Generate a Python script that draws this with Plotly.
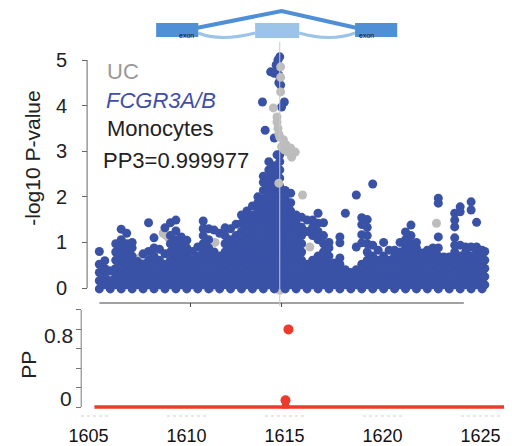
import plotly.graph_objects as go

# ---------------- data ----------------
# Top panel: -log10 P-values of SNPs (FCGR3A/B Monocytes eQTL), columns of points by position (Mb)
col_x = [1605.0, 1605.3, 1605.6, 1605.9, 1606.2, 1606.5, 1606.8, 1607.1, 1607.4, 1607.7,
         1608.0, 1608.3, 1608.6, 1608.9, 1609.2, 1609.5, 1609.8, 1610.1, 1610.4, 1610.7,
         1611.0, 1611.3, 1611.6, 1611.9, 1612.2, 1612.5, 1612.8, 1613.1, 1613.4, 1613.7,
         1614.0, 1614.3, 1614.6, 1614.9, 1615.2, 1615.5, 1615.8, 1616.1, 1616.4, 1616.7,
         1617.0, 1617.3, 1617.6, 1617.9, 1618.2, 1618.5, 1618.8, 1619.1, 1619.4, 1619.7,
         1620.0, 1620.3, 1620.6, 1620.9, 1621.2, 1621.5, 1621.8, 1622.1, 1622.4, 1622.7,
         1623.0, 1623.3, 1623.6, 1623.9, 1624.2, 1624.5, 1624.8, 1625.1, 1625.4, 1625.7,
         1626.0, 1626.15]
col_y = [
    [-0.02, 0.16, 0.34, 0.52, 0.8],
    [0.07, 0.25, 0.43, 0.6],
    [-0.02, 0.16, 0.38],
    [0.07, 0.25, 0.43, 0.61, 0.79, 0.97],
    [-0.02, 0.16, 0.34, 0.52, 0.7, 0.88, 1.06, 1.29],
    [0.07, 0.25, 0.43, 0.61, 0.79, 0.97, 1.2],
    [-0.02, 0.16, 0.34, 0.52, 0.7, 0.88, 1.0],
    [0.07, 0.25, 0.43, 0.58],
    [-0.02, 0.16, 0.34, 0.52, 0.75],
    [0.07, 0.25, 0.43, 0.61, 0.8, 1.43],
    [-0.02, 0.16, 0.34, 0.52, 0.7, 0.88, 1.1],
    [0.07, 0.25, 0.43, 0.61, 0.85],
    [-0.02, 0.16, 0.34, 0.52, 0.75, 1.32],
    [0.07, 0.25, 0.43, 0.61, 0.79, 0.97, 1.15, 1.43],
    [-0.02, 0.16, 0.34, 0.52, 0.7, 0.88, 1.06, 1.25, 1.49],
    [0.07, 0.25, 0.43, 0.61, 0.79, 0.97, 1.12],
    [-0.02, 0.16, 0.34, 0.52, 0.7, 0.88, 1.05],
    [0.07, 0.25, 0.43, 0.61, 0.8],
    [-0.02, 0.16, 0.34, 0.52, 0.7, 0.9],
    [0.07, 0.25, 0.43, 0.61, 0.79, 0.97, 1.15, 1.3, 1.47],
    [-0.02, 0.16, 0.34, 0.52, 0.7, 0.88, 1.06, 1.3],
    [0.07, 0.25, 0.43, 0.61, 0.79, 1.27],
    [-0.02, 0.16, 0.34, 0.52, 0.7, 1.2],
    [0.07, 0.25, 0.43, 0.61, 0.79, 0.97, 1.15, 1.32],
    [-0.02, 0.16, 0.34, 0.52, 0.7, 0.88, 1.06, 1.3],
    [0.07, 0.25, 0.43, 0.61, 0.79, 0.97, 1.15, 1.4],
    [-0.02, 0.16, 0.34, 0.52, 0.7, 0.88, 1.06, 1.24, 1.42, 1.6],
    [0.07, 0.25, 0.43, 0.61, 0.79, 0.97, 1.15, 1.33, 1.51, 1.69],
    [-0.02, 0.16, 0.34, 0.52, 0.7, 0.88, 1.06, 1.24, 1.42, 1.6, 1.8],
    [0.07, 0.25, 0.43, 0.61, 0.79, 0.97, 1.15, 1.33, 1.51, 1.69, 1.87, 2.0],
    [-0.02, 0.16, 0.34, 0.52, 0.7, 0.88, 1.06, 1.24, 1.42, 1.6, 1.78, 1.96, 2.14, 2.32, 2.45],
    [0.07, 0.25, 0.43, 0.61, 0.79, 0.97, 1.15, 1.33, 1.51, 1.69, 1.87, 2.05, 2.23, 2.41, 2.59, 2.77],
    [-0.02, 0.16, 0.34, 0.52, 0.7, 0.88, 1.06, 1.24, 1.42, 1.6, 1.78, 1.96, 2.14, 2.32, 2.5, 2.68, 3.29],
    [0.07, 0.25, 0.43, 0.61, 0.79, 0.97, 1.15, 1.33, 1.51, 1.69, 1.87, 2.05, 2.23, 2.41, 2.59, 2.77, 2.92],
    [-0.02, 0.16, 0.34, 0.52, 0.7, 0.88, 1.06, 1.24, 1.42, 1.6, 1.78, 1.96, 2.14],
    [0.07, 0.25, 0.43, 0.61, 0.79, 0.97, 1.15, 1.33, 1.51, 1.69, 1.87, 2.08],
    [-0.02, 0.16, 0.34, 0.52, 0.7, 0.88, 1.06, 1.24, 1.42, 1.6],
    [0.07, 0.25, 0.43, 0.61, 0.79, 0.97, 1.15, 1.33, 1.55],
    [-0.02, 0.16, 0.34, 0.52, 1.24, 1.49],
    [0.07, 0.25, 0.43, 0.61, 1.15, 1.33, 1.49],
    [-0.02, 0.16, 0.34, 0.52, 0.7, 1.06, 1.24, 1.42, 1.64],
    [0.07, 0.25, 0.43, 0.61, 0.79, 0.97, 1.15, 1.43],
    [-0.02, 0.16, 0.34, 0.52, 0.7, 0.88, 1.0],
    [0.07, 0.25, 0.43, 0.55],
    [-0.02, 0.16, 0.34, 0.52, 0.66, 0.99, 1.12],
    [0.07, 0.25, 0.4, 1.64],
    [-0.02, 0.16, 0.34],
    [0.07, 0.25, 0.4, 0.9, 2.04],
    [-0.02, 0.16, 0.34, 0.52, 0.99, 1.17, 1.39, 1.54],
    [0.07, 0.25, 0.43, 0.61, 0.79, 0.97, 1.15, 1.33, 1.5],
    [-0.02, 0.16, 0.34, 0.52, 0.7, 0.94, 2.28],
    [0.07, 0.25, 0.43, 0.61, 0.83],
    [-0.02, 0.16, 0.34, 0.52, 0.7, 1.0],
    [0.07, 0.25, 0.43, 0.61, 0.83],
    [-0.02, 0.16, 0.34, 0.52, 0.7, 0.83],
    [0.07, 0.25, 0.43, 0.61, 0.79, 1.0],
    [-0.02, 0.16, 0.34, 0.52, 0.7, 0.88, 1.06, 1.23],
    [0.07, 0.25, 0.43, 0.61, 0.79, 0.97, 1.15, 1.38],
    [-0.02, 0.16, 0.34, 0.52, 0.7, 0.88, 1.0],
    [0.07, 0.25, 0.43, 0.61, 0.77],
    [-0.02, 0.16, 0.34, 0.52, 0.7, 0.83],
    [0.07, 0.25, 0.43, 0.61, 0.79, 0.88],
    [-0.02, 0.16, 0.34, 0.52, 0.7, 0.88, 1.12, 1.86, 1.97],
    [0.07, 0.25, 0.43, 0.61, 0.68],
    [-0.02, 0.16, 0.34, 0.52, 0.68],
    [0.07, 0.25, 0.43, 0.61, 0.79, 0.94, 1.1, 1.34, 1.49, 1.64],
    [-0.02, 0.16, 0.34, 0.52, 0.7, 0.94, 1.67, 1.78],
    [0.07, 0.25, 0.43, 0.61, 0.79, 0.9],
    [-0.02, 0.16, 0.34, 0.52, 0.7, 0.9, 1.71, 1.89],
    [0.07, 0.25, 0.43, 0.61, 0.79, 0.9, 1.44],
    [-0.02, 0.16, 0.34, 0.52, 0.7, 0.83],
    [0.07, 0.25, 0.43, 0.61, 0.8],
]
# isolated eQTL SNPs near the peak
peak_x = [1614.9, 1614.8, 1614.7, 1614.4, 1614.6, 1614.85, 1614.85, 1614.95, 1613.95,
          1615.15, 1615.0, 1614.1, 1614.75]
peak_y = [5.07, 5.0, 4.89, 4.74, 4.71, 4.67, 4.5, 4.45, 4.08,
          4.08, 3.97, 3.46, 2.92]
# UC GWAS SNPs (grey): peak cluster (drawn above) and background SNPs (drawn beneath)
uc_x = [1614.95, 1614.95, 1614.95, 1614.55, 1614.75, 1614.75, 1614.8, 1614.85, 1614.9,
        1615.1, 1615.25, 1615.5, 1615.75, 1615.35, 1615.15, 1615.0, 1615.55, 1614.85, 1616.15,
        1623.5]
uc_y = [4.85, 4.3, 4.62, 3.95, 3.75, 3.64, 3.5, 3.38, 3.31,
        3.25, 3.14, 3.07, 2.98, 2.98, 3.03, 3.1, 2.87, 2.3, 2.04,
        1.42]
uc_bg_x = [1605.35, 1605.7, 1605.7, 1607.2, 1608.65, 1608.8, 1609.35, 1613.5, 1614.2, 1613.2,
           1611.1, 1614.7, 1608.5, 1607.0, 1610.4, 1615.45, 1615.0, 1623.95, 1624.05,
           1625.45, 1624.8, 1614.9, 1611.35, 1616.55]
uc_bg_y = [0.33, 0.3, 0.12, 0.66, 1.16, 1.1, 0.33, 0.46, 0.39, 0.33,
           0.0, 0.18, 1.2, 0.6, 0.33, 0.24, 0.1, 0.66, 0.66,
           0.39, 0.24, -0.05, 1.0, 0.9]

# Bottom panel: posterior probability
pp_x = [1615.2, 1615.05]
pp_y = [0.8, 0.07]
pp_base_x = [1605.3, 1626.2]
pp_base_y = [0.0, 0.0]
pp_sq_x = [1615.05]
pp_sq_y = [0.02]

top_ticks = [0, 1, 2, 3, 4, 5]
bottom_xticks = [1605, 1610, 1615, 1620, 1625]
pp_ticks = [0, 0.2, 0.4, 0.6, 0.8, 1.0]

# ---------------- layout helpers (reference-pixel -> paper) ----------------
OX, OY = 16, 8          # page offset of the plot div inside the window
W, H = 512 - OX, 446 - OY
def PX(p): return (p - OX) / W
def PY(p): return 1 - (p - OY) / H

BLUE = "#3A52A6"
GREY = "#BDBDBD"
RED = "#EE3A2C"
FONT = "Liberation Sans, Arial, sans-serif"

bx, by = [], []
for x, ys in zip(col_x, col_y):
    for y in ys:
        bx.append(x)
        by.append(y)

mk = dict(size=9, line=dict(width=0))
fig = go.Figure()
fig.add_trace(go.Scatter(x=uc_bg_x, y=uc_bg_y, mode="markers", marker=dict(color=GREY, **mk),
                         xaxis="x", yaxis="y", showlegend=False, hoverinfo="skip"))
fig.add_trace(go.Scatter(x=bx, y=by, mode="markers", marker=dict(color=BLUE, **mk),
                         xaxis="x", yaxis="y", showlegend=False, hoverinfo="skip"))
fig.add_trace(go.Scatter(x=peak_x, y=peak_y, mode="markers", marker=dict(color=BLUE, **mk),
                         xaxis="x", yaxis="y", showlegend=False, hoverinfo="skip"))
fig.add_trace(go.Scatter(x=uc_x, y=uc_y, mode="markers", marker=dict(color=GREY, **mk),
                         xaxis="x", yaxis="y", showlegend=False, hoverinfo="skip"))

fig.add_trace(go.Scatter(x=pp_base_x, y=pp_base_y, mode="lines",
                         line=dict(color=RED, width=3.5),
                         xaxis="x2", yaxis="y2", showlegend=False, hoverinfo="skip",
                         cliponaxis=False))
fig.add_trace(go.Scatter(x=pp_sq_x, y=pp_sq_y, mode="markers",
                         marker=dict(color=RED, size=7, symbol="square"),
                         xaxis="x2", yaxis="y2", showlegend=False, hoverinfo="skip"))
fig.add_trace(go.Scatter(x=pp_x, y=pp_y, mode="markers",
                         marker=dict(color=RED, size=10, line=dict(width=0)),
                         xaxis="x2", yaxis="y2", showlegend=False, hoverinfo="skip"))

shapes = []
shapes.append(dict(type="line", xref="paper", yref="y", x0=PX(86.5), x1=PX(86.5), y0=0, y1=5,
                   line=dict(color="#666", width=1)))
shapes.append(dict(type="line", xref="x", yref="paper", x0=1605, x1=1625, y0=PY(303), y1=PY(303),
                   line=dict(color="#444", width=1)))
for t in [1610, 1615]:
    shapes.append(dict(type="line", xref="x", yref="paper", x0=t, x1=t, y0=PY(303), y1=PY(307),
                       line=dict(color="#444", width=1)))
shapes.append(dict(type="line", xref="x", yref="paper", x0=1614.9, x1=1614.9, y0=PY(306), y1=PY(42),
                   line=dict(color="#C8C8C8", width=1), layer="above"))
shapes.append(dict(type="line", xref="paper", yref="y2", x0=PX(80.5), x1=PX(80.5), y0=0, y1=1.0,
                   line=dict(color="#777", width=1)))
# faint gene-track marks under the bottom axis
for t in bottom_xticks:
    shapes.append(dict(type="line", xref="x2", yref="paper", x0=t - 1.0, x1=t + 1.0,
                       y0=PY(416), y1=PY(416), line=dict(color="#CFCFCF", width=1, dash="dot")))

# gene model
EX = "#4F8FD6"
EXL = "#9CC3E8"
shapes.append(dict(type="path", xref="paper", yref="paper",
                   path=f"M {PX(200)} {PY(33)} Q {PX(222)} {PY(42)} {PX(258)} {PY(33)}",
                   line=dict(color=EXL, width=3)))
shapes.append(dict(type="path", xref="paper", yref="paper",
                   path=f"M {PX(303)} {PY(33)} Q {PX(335)} {PY(42)} {PX(360)} {PY(33)}",
                   line=dict(color=EXL, width=3)))
shapes.append(dict(type="rect", xref="paper", yref="paper", x0=PX(258), x1=PX(303), y0=PY(38), y1=PY(23),
                   fillcolor=EXL, line=dict(width=0)))
shapes.append(dict(type="path", xref="paper", yref="paper",
                   path=f"M {PX(198)} {PY(28)} L {PX(285)} {PY(11)} L {PX(362)} {PY(28)}",
                   line=dict(color=EX, width=4)))
shapes.append(dict(type="rect", xref="paper", yref="paper", x0=PX(157), x1=PX(200), y0=PY(37), y1=PY(23),
                   fillcolor=EX, line=dict(width=0)))
shapes.append(dict(type="rect", xref="paper", yref="paper", x0=PX(360), x1=PX(403), y0=PY(37), y1=PY(23),
                   fillcolor=EX, line=dict(width=0)))

annotations = [
    dict(text="exon", x=PX(178), y=PY(30), xref="paper", yref="paper", showarrow=False,
         font=dict(size=7, color="#111", family=FONT)),
    dict(text="exon", x=PX(381), y=PY(30), xref="paper", yref="paper", showarrow=False,
         font=dict(size=7, color="#111", family=FONT)),
    dict(text="UC", x=PX(105), y=PY(71), xref="paper", yref="paper", showarrow=False,
         xanchor="left", yanchor="middle", font=dict(size=22, color="#999999", family=FONT)),
    dict(text="<i>FCGR3A/B</i>", x=PX(104), y=PY(101), xref="paper", yref="paper", showarrow=False,
         xanchor="left", yanchor="middle", font=dict(size=22, color="#3F4FA8", family=FONT)),
    dict(text="Monocytes", x=PX(105), y=PY(128), xref="paper", yref="paper", showarrow=False,
         xanchor="left", yanchor="middle", font=dict(size=22, color="#222", family=FONT)),
    dict(text="PP3=0.999977", x=PX(101), y=PY(160), xref="paper", yref="paper", showarrow=False,
         xanchor="left", yanchor="middle", font=dict(size=22, color="#222", family=FONT)),
    dict(text="-log10 P-value", x=PX(30), y=PY(158), xref="paper", yref="paper", showarrow=False,
         textangle=-90, xanchor="center", yanchor="middle", font=dict(size=21, color="#222", family=FONT)),
    dict(text="PP", x=PX(26), y=PY(365), xref="paper", yref="paper", showarrow=False,
         textangle=-90, xanchor="center", yanchor="middle", font=dict(size=21, color="#222", family=FONT)),
    dict(text="0.8", x=PX(74), y=PY(335), xref="paper", yref="paper", showarrow=False,
         xanchor="right", yanchor="middle", font=dict(size=21, color="#222", family=FONT)),
    dict(text="0", x=PX(73), y=PY(398), xref="paper", yref="paper", showarrow=False,
         xanchor="right", yanchor="middle", font=dict(size=21, color="#222", family=FONT)),
]

fig.update_layout(
    width=W, height=H,
    margin=dict(l=0, r=0, t=0, b=0),
    paper_bgcolor="white", plot_bgcolor="white",
    showlegend=False,
    xaxis=dict(domain=[PX(89.7), PX(498.9)], range=[1604.5, 1626.5], visible=False, anchor="y"),
    yaxis=dict(domain=[PY(300), PY(45)], range=[-0.263, 5.329], anchor="free", position=PX(86.5),
               showgrid=False, zeroline=False, showline=False,
               tickvals=top_ticks, ticks="outside", ticklen=5, tickcolor="#666", tickwidth=1,
               ticklabelstandoff=11,
               tickfont=dict(size=20, color="#222", family=FONT)),
    xaxis2=dict(domain=[PX(78), 1.0], range=[1604.5, 1626.2], anchor="y2",
                showgrid=False, zeroline=False, showline=False, ticks="",
                tickvals=bottom_xticks, ticklabelstandoff=8,
                tickfont=dict(size=18, color="#111", family=FONT)),
    yaxis2=dict(domain=[PY(415), PY(300)], range=[-0.0825, 1.103], anchor="free", position=PX(80.5),
                showgrid=False, zeroline=False, showline=False,
                tickvals=pp_ticks, showticklabels=False, ticks="outside", ticklen=5,
                tickcolor="#777", tickwidth=1),
    shapes=shapes,
    annotations=annotations,
)

fig.write_html("out.html")
